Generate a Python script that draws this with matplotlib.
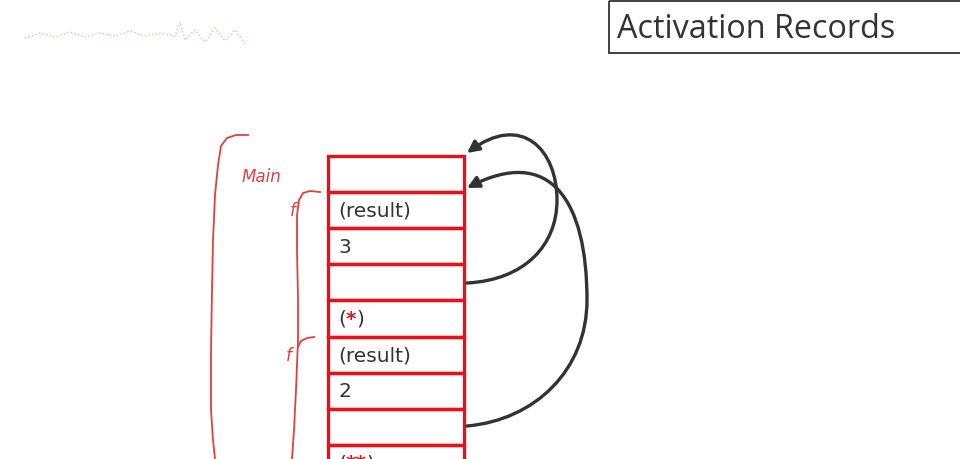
import matplotlib.pyplot as plt
import numpy as np
from matplotlib.path import Path
from matplotlib.patches import FancyArrowPatch, Rectangle

# stack geometry (pixels, y grows downwards)
stack_left, stack_right = 328, 464
row_top = 156
row_h = 36.1
cells = ['', '(result)', '3', '', '(*)', '(result)', '2', '', '(**)']

# handwritten red brackets
outer_x = [248, 236, 227, 221, 218, 215, 213, 212, 211, 211, 213, 215]
outer_y = [135, 135, 138, 146, 165, 195, 240, 290, 350, 410, 440, 459]
inner_x = [320, 310, 303, 299, 297, 297, 298, 298, 296, 294, 292]
inner_y = [192, 191, 193, 200, 215, 250, 300, 340, 390, 430, 459]
hook2_x = [314, 307, 301, 298]
hook2_y = [337, 338, 341, 347]
labels = [('Main', 242, 177), ('f', 290, 211), ('f', 286, 356)]

# pointer curves (start, controls..., end)
arrow1 = [(467, 283), (525, 280), (557, 245), (557, 200),
          (557, 150), (522, 112), (467, 153)]
arrow2 = [(467, 426), (535, 420), (587, 370), (587, 300),
          (587, 200), (550, 145), (467, 188)]

red = '#e3121b'
hand = '#e04040'
dark = '#333333'

fig = plt.figure(figsize=(9.6, 4.59), dpi=100)
ax = fig.add_axes([0, 0, 1, 1])
ax.set_xlim(0, 960)
ax.set_ylim(459, 0)
ax.axis('off')

# title box
ax.add_patch(Rectangle((608.5, 1), 360, 52, fill=False, edgecolor=dark, lw=1.3))
ax.text(617, 29, 'Activation Records', fontsize=23.3, family='Open Sans',
        color=dark, va='center', ha='left')

# faint scribble top-left
sx = [25, 40, 55, 70, 85, 100, 115, 130, 145, 160, 175, 180, 185, 195, 205, 215, 225, 235, 245]
sy = [38, 33, 37, 32, 37, 33, 36, 31, 36, 33, 36, 22, 40, 30, 42, 28, 41, 30, 44]
ax.plot(sx, sy, color='#f0a0a0', lw=1, ls=':', alpha=0.8)

# stack cells
for i, txt in enumerate(cells):
    y0 = row_top + i * row_h
    ax.add_patch(Rectangle((stack_left, y0), stack_right - stack_left, row_h,
                           fill=False, edgecolor=red, lw=2.4, zorder=3))
    yc = y0 + row_h / 2 + 1
    if txt.startswith('(') and '*' in txt:
        t = ax.text(338, yc, '(', fontsize=14.5, color=dark, va='center', ha='left')
        t = ax.annotate(txt[1:-1], xycoords=t, xy=(1, 0), va='bottom',
                        fontsize=14.5, color=red, fontweight='bold')
        ax.annotate(')', xycoords=t, xy=(1, 0), va='bottom', fontsize=14.5, color=dark)
    elif txt:
        ax.text(338, yc, txt, fontsize=14.5, color=dark, va='center', ha='left')

# brackets
ax.plot(outer_x, outer_y, color=hand, lw=1.3)
ax.plot(inner_x, inner_y, color=hand, lw=1.3)
ax.plot(hook2_x, hook2_y, color=hand, lw=1.3)
for s, x, y in labels:
    ax.text(x, y, s, fontsize=12, color=hand, style='italic', family='DejaVu Sans',
            va='center', ha='left')

# pointer arrows
codes = [Path.MOVETO] + [Path.CURVE4] * 6
for pts in (arrow1, arrow2):
    arr = FancyArrowPatch(path=Path(pts, codes), arrowstyle='-|>,head_length=7,head_width=3.5',
                          color=dark, lw=2.4, zorder=4)
    ax.add_patch(arr)

fig.savefig('out.png', dpi=100)
